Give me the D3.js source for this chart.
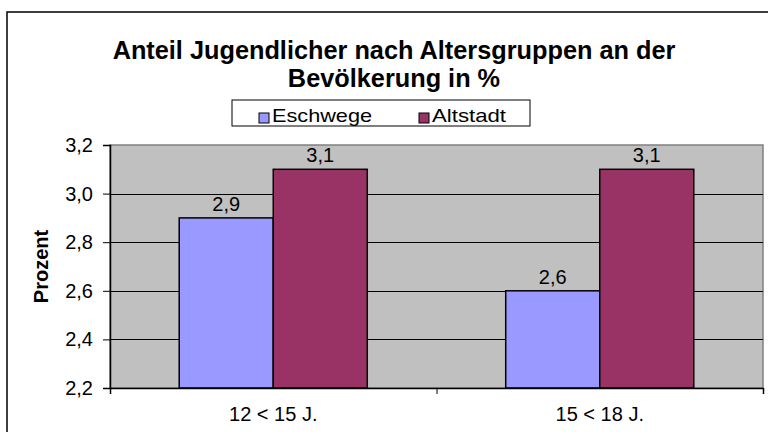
<!DOCTYPE html>
<html>
<head>
<meta charset="utf-8">
<script src="https://cdn.jsdelivr.net/npm/d3@7"></script>
<style>
  body { margin: 0; background: #fff; }
  text { font-family: "Liberation Sans", Arial, sans-serif; fill: #000; }
</style>
</head>
<body>
<div id="chart"></div>
<script>
(function() {
	var categories = ["12 < 15 J.", "15 < 18 J."];
	var seriesNames = ["Eschwege", "Altstadt"];
	var eschwege = [2.9, 2.6];
	var altstadt = [3.1, 3.1];
	var yTicks = [2.2, 2.4, 2.6, 2.8, 3.0, 3.2];
	var colors = ["#9999FF", "#993366"];

	var margin = { top: 145, left: 110, right: 5, bottom: 44 },
	width = 768 - margin.left - margin.right,
	height = 432 - margin.top - margin.bottom;

	var svgRoot = d3.select("#chart")
				.append("svg")
				.attr("width", 768)
				.attr("height", 432);

	// chart frame, cut off at right and bottom like the original
	svgRoot.append("rect")
		.attr("x", 7)
		.attr("y", 12)
		.attr("width", 800)
		.attr("height", 450)
		.attr("fill", "none")
		.attr("stroke", "#000")
		.attr("stroke-width", 1.5);

	svgRoot.append("text")
		.attr("x", 394)
		.attr("y", 59)
		.attr("text-anchor", "middle")
		.attr("style", "font-size: 25.3px; font-weight: bold")
		.text("Anteil Jugendlicher nach Altersgruppen an der");

	svgRoot.append("text")
		.attr("x", 394)
		.attr("y", 87)
		.attr("text-anchor", "middle")
		.attr("style", "font-size: 25.3px; font-weight: bold")
		.text("Bevölkerung in %");

	var svg = svgRoot.append("g")
		.attr("transform", "translate(" + margin.left + "," + margin.top + ")");

	var xPositionScale = d3.scaleBand().domain(categories).range([0, width]).paddingInner(0.424).paddingOuter(0.212);
	var xSeriesScale = d3.scaleBand().domain(seriesNames).range([0, xPositionScale.bandwidth()]);
	var yPositionScale = d3.scaleLinear().domain([2.2, 3.2]).range([height, 0]);
	var fmt = function(v) { return d3.format(".1f")(v).replace(".", ","); };

	svg.append("rect")
		.attr("width", width)
		.attr("height", height)
		.attr("fill", "#C0C0C0")
		.attr("stroke", "#808080")
		.attr("stroke-width", 1.5);

	svg.selectAll(".grid")
		.data(yTicks.slice(1, -1))
		.enter()
		.append("line")
		.attr("class", "grid")
		.attr("x1", 0)
		.attr("x2", width)
		.attr("y1", function(d) { return Math.round(yPositionScale(d)) + 0.5; })
		.attr("y2", function(d) { return Math.round(yPositionScale(d)) + 0.5; })
		.attr("stroke", "#000")
		.attr("stroke-width", 1);

	var rows = categories.map(function(c, i) {
		return [
			{ cat: c, name: seriesNames[0], value: eschwege[i], color: colors[0] },
			{ cat: c, name: seriesNames[1], value: altstadt[i], color: colors[1] }
		];
	});
	var bars = [].concat.apply([], rows);

	svg.selectAll(".bar")
		.data(bars)
		.enter()
		.append("rect")
		.attr("class", "bar")
		.attr("x", function(d) { return xPositionScale(d.cat) + xSeriesScale(d.name); })
		.attr("width", xSeriesScale.bandwidth())
		.attr("y", function(d) { return yPositionScale(d.value); })
		.attr("height", function(d) { return height - yPositionScale(d.value); })
		.attr("fill", function(d) { return d.color; })
		.attr("stroke", "#000")
		.attr("stroke-width", 1.5);

	svg.selectAll(".bar-label")
		.data(bars)
		.enter()
		.append("text")
		.attr("class", "bar-label")
		.attr("x", function(d) { return xPositionScale(d.cat) + xSeriesScale(d.name) + xSeriesScale.bandwidth() / 2; })
		.attr("y", function(d) { return yPositionScale(d.value) - 7; })
		.attr("text-anchor", "middle")
		.attr("style", "font-size: 20px")
		.text(function(d) { return fmt(d.value); });

	// Add your axes
	var yAxis = d3.axisLeft(yPositionScale).tickValues(yTicks).tickFormat(fmt).tickSize(7).tickPadding(10);
	var yG = svg.append("g")
		.attr("class", "axis y-axis")
		.call(yAxis);
	yG.select(".domain").attr("stroke-width", 1.5);
	yG.selectAll("text").attr("style", "font-size: 20px");

	var boundaries = d3.scaleLinear().domain([0, categories.length]).range([0, width]);
	var xAxis = d3.axisBottom(boundaries).tickValues(d3.range(categories.length + 1)).tickSize(6).tickFormat("");
	var xG = svg.append("g")
		.attr("class", "axis x-axis")
		.attr("transform", "translate(0," + height + ")")
		.call(xAxis);
	xG.select(".domain").attr("stroke-width", 1.5);

	svg.selectAll(".cat-label")
		.data(categories)
		.enter()
		.append("text")
		.attr("class", "cat-label")
		.attr("x", function(d) { return xPositionScale(d) + xPositionScale.bandwidth() / 2; })
		.attr("y", height + 33)
		.attr("text-anchor", "middle")
		.attr("style", "font-size: 20px")
		.text(function(d) { return d; });

	svgRoot.append("text")
		.attr("transform", "translate(48," + (margin.top + height / 2) + ") rotate(-90)")
		.attr("text-anchor", "middle")
		.attr("style", "font-size: 20px; font-weight: bold")
		.text("Prozent");

	// legend
	var legend = svgRoot.append("g").attr("transform", "translate(232,100)");
	legend.append("rect")
		.attr("width", 298)
		.attr("height", 26)
		.attr("fill", "#fff")
		.attr("stroke", "#000")
		.attr("stroke-width", 1);

	var legendX = [27, 187];
	var legendLen = [100, 74];
	var items = legend.selectAll(".item")
		.data(seriesNames)
		.enter()
		.append("g")
		.attr("class", "item")
		.attr("transform", function(d, i) { return "translate(" + legendX[i] + ",0)"; });

	items.append("rect")
		.attr("y", 13)
		.attr("width", 10)
		.attr("height", 10)
		.attr("fill", function(d, i) { return colors[i]; })
		.attr("stroke", "#000")
		.attr("stroke-width", 1);

	items.append("text")
		.attr("x", 13)
		.attr("y", 22)
		.attr("textLength", function(d, i) { return legendLen[i]; })
		.attr("lengthAdjust", "spacingAndGlyphs")
		.attr("style", "font-size: 19px")
		.text(function(d) { return d; });
})();
</script>
</body>
</html>
